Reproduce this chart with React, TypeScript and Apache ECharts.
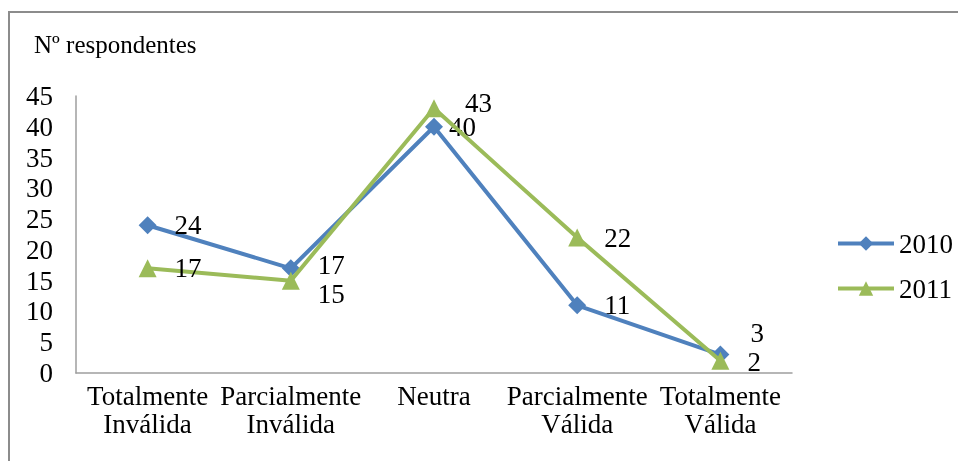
import React, { useEffect, useRef } from "react";
import * as echarts from "echarts";

const categories = [
  "Totalmente\nInválida",
  "Parcialmente\nInválida",
  "Neutra",
  "Parcialmente\nVálida",
  "Totalmente\nVálida",
];
const values2010 = [24, 17, 40, 11, 3];
const values2011 = [17, 15, 43, 22, 2];
const seriesNames = ["2010", "2011"];
const yTicks = { min: 0, max: 45, interval: 5 };

// label nudges (styling only)
const nudge2010 = [[0, 0], [0, -3], [-12, 0], [0, 0], [3, -22]];
const nudge2011 = [[0, 0], [0, 13], [4, -5], [0, 0], [0, 1]];

export default function App() {
  const ref = useRef<HTMLDivElement>(null);
  useEffect(() => {
    if (!ref.current) return;
    const chart = echarts.init(ref.current, undefined, { renderer: "svg" });
    const mk = (vals: number[], nudges: number[][]) =>
      vals.map((v, i) => ({ value: v, label: { offset: nudges[i] } }));
    chart.setOption({
      animation: false,
      title: {
        text: "Nº respondentes",
        left: 29,
        top: 27,
        textStyle: { fontFamily: "Liberation Serif", fontSize: 25, fontWeight: "normal", color: "#000" },
      },
      graphic: [
        {
          type: "rect",
          shape: { x: 9, y: 12, width: 1000, height: 600 },
          style: { fill: "none", stroke: "#8c8c8c", lineWidth: 2 },
          silent: true,
        },
      ],
      legend: {
        orient: "vertical",
        left: 831,
        top: 225,
        itemWidth: 56,
        itemHeight: 18,
        itemGap: 18,
        lineStyle: { width: 4 },
        textStyle: { fontFamily: "Liberation Serif", fontSize: 27, color: "#000" },
        data: seriesNames,
      },
      grid: { left: 76, right: 166, top: 96, bottom: 88 },
      xAxis: {
        type: "category",
        data: categories,
        boundaryGap: true,
        axisLine: { show: true, lineStyle: { color: "#9e9e9e", width: 1.5 } },
        axisTick: { show: false },
        axisLabel: {
          interval: 0,
          margin: 9,
          fontFamily: "Liberation Serif",
          fontSize: 27,
          lineHeight: 28,
          color: "#000",
        },
      },
      yAxis: {
        type: "value",
        min: yTicks.min,
        max: yTicks.max,
        interval: yTicks.interval,
        axisLine: { show: true, lineStyle: { color: "#9e9e9e", width: 1.5 } },
        axisTick: { show: false },
        splitLine: { show: false },
        axisLabel: { margin: 23, fontFamily: "Liberation Serif", fontSize: 27, color: "#000" },
      },
      series: [
        {
          name: seriesNames[0],
          type: "line",
          data: mk(values2010, nudge2010),
          symbol: "diamond",
          symbolSize: 18,
          itemStyle: { color: "#4F81BD" },
          lineStyle: { color: "#4F81BD", width: 4 },
          label: { show: true, position: "right", distance: 18, color: "#000", fontFamily: "Liberation Serif", fontSize: 27 },
          z: 2,
        },
        {
          name: seriesNames[1],
          type: "line",
          data: mk(values2011, nudge2011),
          symbol: "triangle",
          symbolSize: 18,
          itemStyle: { color: "#9BBB59" },
          lineStyle: { color: "#9BBB59", width: 4 },
          label: { show: true, position: "right", distance: 18, color: "#000", fontFamily: "Liberation Serif", fontSize: 27 },
          z: 3,
        },
      ],
    });
    return () => chart.dispose();
  }, []);
  return (
    <div
      ref={ref}
      style={{ position: "fixed", left: 0, top: 0, width: 958, height: 461 }}
    />
  );
}
